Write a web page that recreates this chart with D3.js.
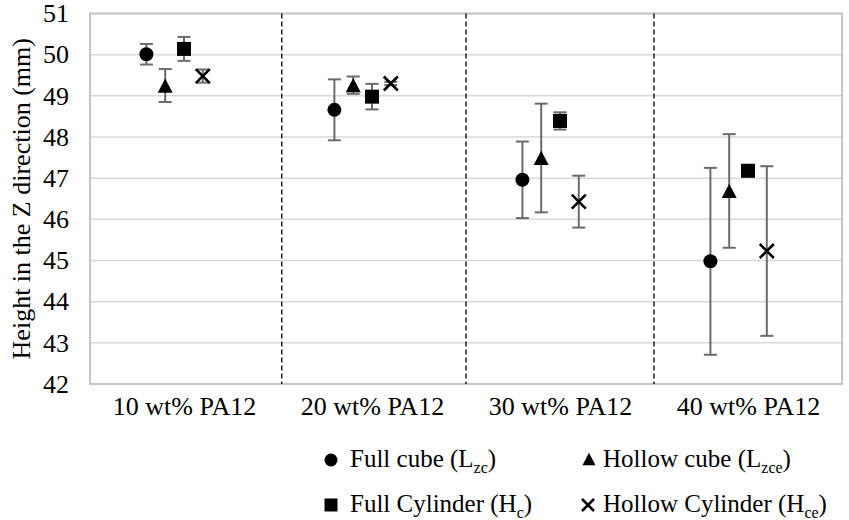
<!DOCTYPE html>
<html>
<head>
<meta charset="utf-8">
<script src="https://cdn.jsdelivr.net/npm/d3@7"></script>
<style>
  html, body { margin: 0; padding: 0; background: #fff; }
  svg { display: block; }
  text { font-family: "Liberation Serif", "Times New Roman", serif; fill: #000; }
</style>
</head>
<body>
<svg id="chart" width="849" height="520"></svg>
<script>
// ---- data ----
const categories = ["10 wt% PA12", "20 wt% PA12", "30 wt% PA12", "40 wt% PA12"];
const yTicks = [42, 43, 44, 45, 46, 47, 48, 49, 50, 51];
const dividers = [1.52, 2.5, 3.5];

const fullCube = [50.01, 48.66, 46.96, 44.98];
const fullCubeErr = [0.25, 0.74, 0.93, 2.27];
const hollowCube = [49.25, 49.26, 47.49, 46.69];
const hollowCubeErr = [0.40, 0.21, 1.32, 1.38];
const fullCyl = [50.14, 48.98, 48.39, 47.18];
const fullCylErr = [0.29, 0.31, 0.21, 0.06];
const hollowCyl = [49.48, 49.30, 46.43, 45.23];
const hollowCylErr = [0.16, 0.04, 0.63, 2.06];

const series = [
  { key: "circle", values: fullCube, err: fullCubeErr, offset: -0.2,
    label: ["Full cube (L", "zc", ")"] },
  { key: "triangle", values: hollowCube, err: hollowCubeErr, offset: -0.1,
    label: ["Hollow cube (L", "zce", ")"] },
  { key: "square", values: fullCyl, err: fullCylErr, offset: 0,
    label: ["Full Cylinder (H", "c", ")"] },
  { key: "cross", values: hollowCyl, err: hollowCylErr, offset: 0.1,
    label: ["Hollow Cylinder (H", "ce", ")"] }
];

// ---- layout ----
const svg = d3.select("#chart");
const pL = 90, pR = 842, pT = 13.5, pB = 384;

const x = d3.scaleLinear().domain([0.5, 4.5]).range([pL, pR]);
const y = d3.scaleLinear().domain([42, 51]).range([pB, pT]);

// gridlines
svg.append("g").selectAll("line").data(yTicks).join("line")
  .attr("x1", pL).attr("x2", pR)
  .attr("y1", d => y(d)).attr("y2", d => y(d))
  .attr("stroke", "#d9d9d9").attr("stroke-width", 1.5);

// plot border
svg.append("rect")
  .attr("x", pL).attr("y", pT)
  .attr("width", pR - pL).attr("height", pB - pT)
  .attr("fill", "none").attr("stroke", "#c4c4c4").attr("stroke-width", 2);

// dashed dividers
svg.append("g").selectAll("line").data(dividers).join("line")
  .attr("x1", d => x(d)).attr("x2", d => x(d))
  .attr("y1", pT).attr("y2", pB)
  .attr("stroke", "#000").attr("stroke-width", 1.3)
  .attr("stroke-dasharray", "5,3");

// y axis
const yAxis = d3.axisLeft(y).tickValues(yTicks).tickSize(0).tickPadding(21).tickFormat(d3.format("d"));
const gy = svg.append("g").attr("transform", `translate(${pL},0)`).call(yAxis);
gy.attr("font-family", null);
gy.select(".domain").remove();
gy.selectAll("text").style("font-size", "26px").style("font-family", '"Liberation Serif", serif').attr("fill", "#000");

// x axis
const xAxis = d3.axisBottom(x).tickValues([1, 2, 3, 4]).tickSize(0).tickPadding(13)
  .tickFormat(d => categories[d - 1]);
const gx = svg.append("g").attr("transform", `translate(0,${pB})`).call(xAxis);
gx.attr("font-family", null);
gx.select(".domain").remove();
gx.selectAll("text").style("font-size", "26px").style("font-family", '"Liberation Serif", serif').attr("fill", "#000");

// axis title
svg.append("text")
  .attr("transform", `translate(30,${(pT + pB) / 2}) rotate(-90)`)
  .attr("text-anchor", "middle")
  .style("font-size", "26px")
  .text("Height in the Z direction (mm)");

// marker drawing
function drawMarker(g, key, cx, cy, s) {
  if (key === "circle") {
    g.append("circle").attr("cx", cx).attr("cy", cy).attr("r", s / 2).attr("fill", "#000");
  } else if (key === "triangle") {
    const h = s * 0.95;
    g.append("path")
      .attr("d", `M${cx},${cy - h / 2}L${cx + s / 2},${cy + h / 2}L${cx - s / 2},${cy + h / 2}Z`)
      .attr("fill", "#000");
  } else if (key === "square") {
    g.append("rect").attr("x", cx - s / 2).attr("y", cy - s / 2)
      .attr("width", s).attr("height", s).attr("fill", "#000");
  } else {
    const d = s / 2;
    g.append("path")
      .attr("d", `M${cx - d},${cy - d}L${cx + d},${cy + d}M${cx + d},${cy - d}L${cx - d},${cy + d}`)
      .attr("stroke", "#000").attr("stroke-width", 2.6).attr("fill", "none");
  }
}

// error bars & markers
const gErr = svg.append("g");
const gMark = svg.append("g");
series.forEach(s => {
  s.values.forEach((v, i) => {
    const cx = x(i + 1 + s.offset);
    const e = s.err[i];
    const y1 = y(v + e), y2 = y(v - e);
    gErr.append("line").attr("x1", cx).attr("x2", cx).attr("y1", y1).attr("y2", y2)
      .attr("stroke", "#6b6b6b").attr("stroke-width", 2);
    [y1, y2].forEach(yy => {
      gErr.append("line").attr("x1", cx - 6.5).attr("x2", cx + 6.5).attr("y1", yy).attr("y2", yy)
        .attr("stroke", "#6b6b6b").attr("stroke-width", 2);
    });
    drawMarker(gMark, s.key, cx, y(v), s.key === "triangle" ? 15 : 14);
  });
});

// legend
const legendPos = [
  { mx: 331, my: 460, tx: 350, ty: 467 },
  { mx: 589, my: 459, tx: 603, ty: 467 },
  { mx: 331, my: 505, tx: 350, ty: 512 },
  { mx: 588, my: 505, tx: 603, ty: 512 }
];
const gLeg = svg.append("g");
series.forEach((s, i) => {
  const p = legendPos[i];
  drawMarker(gLeg, s.key, p.mx, p.my, s.key === "cross" ? 12 : 13);
  const t = gLeg.append("text").attr("x", p.tx).attr("y", p.ty).style("font-size", "25px");
  t.append("tspan").text(s.label[0]);
  t.append("tspan").attr("dy", 6).style("font-size", "16px").text(s.label[1]);
  t.append("tspan").attr("dy", -6).text(s.label[2]);
});
</script>
</body>
</html>
